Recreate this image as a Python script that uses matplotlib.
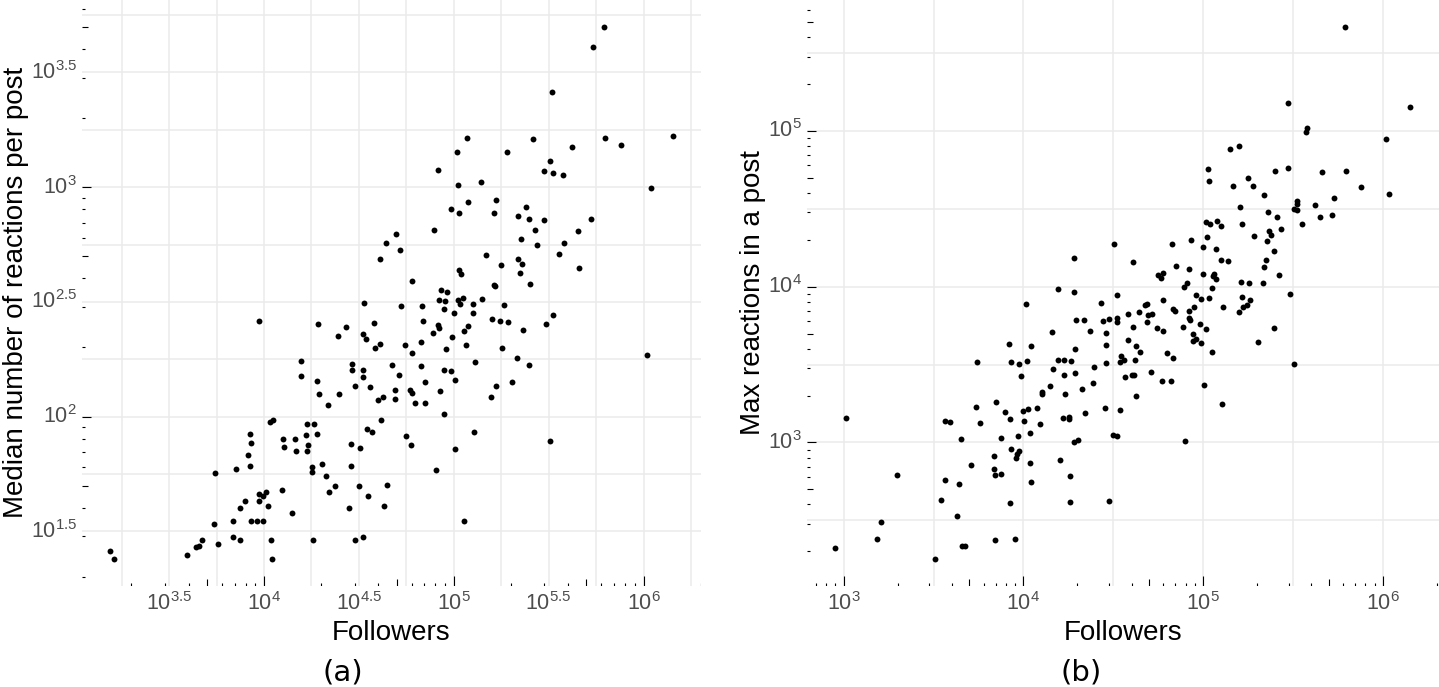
import numpy as np
import matplotlib
matplotlib.use("Agg")
import matplotlib.pyplot as plt
from matplotlib.transforms import blended_transform_factory
from matplotlib.ticker import FixedLocator, NullFormatter

plt.rcParams['font.family'] = ['Liberation Sans', 'DejaVu Sans']
plt.rcParams['mathtext.fontset'] = 'custom'
plt.rcParams['mathtext.rm'] = 'Liberation Sans'
plt.rcParams['mathtext.it'] = 'Liberation Sans:italic'
plt.rcParams['mathtext.bf'] = 'Liberation Sans:bold'

# ---------------- data (log10 values) ----------------
# Panel (a): followers vs median reactions per post
a_log10_followers = [
    5.793, 5.733, 5.520, 5.071, 5.416, 5.799, 6.153, 5.882, 5.624, 5.017,
    5.282, 5.505, 5.475, 5.524, 5.574, 4.915, 5.022, 5.142, 6.038, 5.075,
    5.220, 4.988, 5.029, 5.210, 5.382, 5.340, 5.395, 5.476, 5.721, 4.897,
    5.426, 5.654, 5.355, 5.436, 5.580, 4.694, 4.643, 4.717, 4.610, 5.168,
    5.340, 5.552, 5.361, 5.250, 5.661, 5.030, 5.038, 5.351, 4.778, 5.403,
    4.935, 4.963, 5.212, 5.217, 4.922, 4.954, 5.020, 5.033, 5.049, 5.103,
    5.151, 5.266, 4.525, 4.720, 4.834, 4.946, 5.002, 5.100, 5.204, 5.245,
    5.287, 5.484, 5.523, 5.366, 3.974, 4.286, 4.432, 4.390, 4.581, 4.836,
    4.917, 4.922, 5.076, 5.056, 4.892, 4.991, 4.524, 4.539, 4.613, 4.583,
    4.743, 4.828, 4.778, 4.960, 5.064, 5.256, 5.333, 5.398, 5.112, 6.018,
    4.197, 4.197, 4.462, 4.464, 4.523, 4.522, 4.280, 4.291, 4.395, 4.479,
    4.339, 4.675, 4.714, 4.825, 4.946, 4.985, 5.004, 4.851, 4.926, 4.561,
    4.689, 4.692, 4.769, 4.779, 4.602, 4.627, 4.798, 4.848, 4.947, 5.198,
    5.222, 5.305, 4.029, 4.045, 4.226, 4.265, 4.222, 4.279, 4.102, 4.161,
    4.106, 4.168, 4.232, 4.228, 3.927, 3.934, 3.918, 3.926, 3.851, 4.252,
    4.307, 4.457, 4.506, 4.459, 4.541, 4.568, 4.616, 4.747, 4.776, 5.005,
    4.904, 5.108, 5.505, 5.052, 4.501, 4.546, 4.650, 4.631, 4.446, 4.479,
    4.522, 4.254, 4.327, 4.374, 4.344, 4.093, 4.023, 4.009, 3.996, 3.972,
    3.974, 4.148, 3.900, 3.875, 3.838, 3.933, 3.962, 3.996, 3.838, 3.875,
    4.035, 4.044, 4.260, 3.743, 3.737, 3.759, 3.675, 3.659, 3.643, 3.594,
    3.187, 3.208,
]
a_log10_median_reactions = [
    3.700, 3.613, 3.417, 3.215, 3.212, 3.215, 3.224, 3.183, 3.177, 3.153,
    3.152, 3.114, 3.070, 3.062, 3.054, 3.074, 3.011, 3.021, 2.996, 2.936,
    2.942, 2.906, 2.887, 2.889, 2.914, 2.874, 2.863, 2.856, 2.861, 2.812,
    2.812, 2.808, 2.774, 2.748, 2.756, 2.796, 2.756, 2.724, 2.687, 2.704,
    2.686, 2.707, 2.663, 2.660, 2.649, 2.640, 2.623, 2.625, 2.593, 2.580,
    2.553, 2.545, 2.573, 2.567, 2.509, 2.502, 2.506, 2.491, 2.516, 2.491,
    2.511, 2.487, 2.494, 2.482, 2.481, 2.468, 2.450, 2.451, 2.427, 2.417,
    2.412, 2.404, 2.442, 2.379, 2.417, 2.402, 2.392, 2.351, 2.410, 2.418,
    2.398, 2.384, 2.395, 2.373, 2.363, 2.346, 2.362, 2.337, 2.318, 2.297,
    2.310, 2.324, 2.279, 2.295, 2.314, 2.299, 2.257, 2.226, 2.238, 2.270,
    2.243, 2.176, 2.228, 2.203, 2.202, 2.173, 2.155, 2.097, 2.100, 2.133,
    2.051, 2.223, 2.181, 2.220, 2.203, 2.199, 2.161, 2.150, 2.110, 2.130,
    2.117, 2.076, 2.115, 2.103, 2.072, 2.087, 2.057, 2.057, 2.013, 2.085,
    2.133, 2.150, 1.978, 1.987, 1.969, 1.969, 1.919, 1.924, 1.903, 1.903,
    1.869, 1.851, 1.875, 1.851, 1.924, 1.886, 1.831, 1.785, 1.772, 1.779,
    1.792, 1.881, 1.863, 1.785, 1.945, 1.934, 1.984, 1.913, 1.875, 1.857,
    1.767, 1.934, 1.892, 1.543, 1.699, 1.652, 1.702, 1.611, 1.601, 1.462,
    1.475, 1.757, 1.740, 1.699, 1.671, 1.680, 1.611, 1.670, 1.654, 1.663,
    1.633, 1.578, 1.633, 1.601, 1.543, 1.543, 1.543, 1.543, 1.476, 1.462,
    1.462, 1.379, 1.462, 1.755, 1.532, 1.446, 1.462, 1.437, 1.431, 1.396,
    1.414, 1.379,
]

# Panel (b): followers vs max reactions in a post
b_log10_followers = [
    4.279, 4.195, 4.279, 4.012, 4.294, 4.160, 3.918, 4.044, 4.286, 3.743,
    3.933, 3.973, 4.022, 4.195, 4.227, 4.263, 4.166, 3.988, 4.226, 4.289,
    4.146, 4.102, 4.105, 4.230, 3.850, 3.736, 3.898, 3.996, 4.027, 4.077,
    3.925, 3.757, 4.004, 4.092, 4.222, 4.252, 4.254, 3.564, 3.593, 3.013,
    3.653, 3.875, 3.972, 4.035, 4.283, 4.304, 3.930, 3.973, 3.966, 3.961,
    3.838, 4.205, 3.711, 4.037, 3.838, 3.843, 3.875, 4.259, 3.295, 3.565,
    3.642, 4.043, 3.543, 3.925, 4.258, 3.631, 3.206, 3.185, 3.844, 3.955,
    3.658, 3.675, 2.953, 3.510, 5.791, 5.474, 6.151, 5.577, 5.573, 6.016,
    5.148, 5.201, 5.026, 5.033, 5.401, 5.473, 5.660, 5.797, 5.248, 5.166,
    5.279, 5.879, 5.337, 6.036, 5.730, 5.523, 5.521, 5.504, 5.520, 5.621,
    5.208, 5.360, 5.413, 5.653, 5.719, 5.550, 5.016, 5.036, 5.075, 5.098,
    5.218, 5.364, 5.380, 5.435, 5.285, 5.354, 5.021, 4.933, 4.828, 4.504,
    5.001, 5.072, 5.394, 5.101, 5.140, 5.351, 5.338, 4.608, 4.849, 4.920,
    4.747, 4.767, 4.778, 5.001, 5.062, 5.057, 5.069, 5.424, 5.211, 5.254,
    5.333, 4.895, 4.912, 5.047, 5.483, 4.523, 4.430, 4.339, 4.372, 4.445,
    4.478, 4.521, 4.521, 4.460, 4.580, 4.612, 4.642, 4.676, 4.688, 4.692,
    4.717, 4.690, 4.777, 4.742, 4.779, 4.835, 4.845, 4.890, 4.922, 4.952,
    4.961, 4.987, 5.030, 4.920, 4.926, 4.983, 5.018, 4.944, 4.958, 4.581,
    5.110, 5.197, 5.217, 5.220, 5.243, 5.263, 5.396, 4.457, 4.627, 4.650,
    4.544, 4.539, 4.560, 4.458, 4.393, 4.622, 4.797, 4.833, 4.946, 4.988,
    5.051, 5.304, 5.504, 4.324, 4.389, 4.565, 4.603, 4.618, 4.712, 4.774,
    4.823, 4.628, 5.003, 4.343, 4.456, 4.539, 5.105, 4.499, 4.519, 4.901,
    4.478,
]
b_log10_max_reactions = [
    4.182, 3.983, 3.967, 3.889, 3.784, 3.709, 3.632, 3.619, 3.598, 3.519,
    3.517, 3.501, 3.525, 3.530, 3.531, 3.523, 3.473, 3.429, 3.430, 3.446,
    3.365, 3.322, 3.311, 3.308, 3.262, 3.226, 3.194, 3.204, 3.212, 3.223,
    3.153, 3.128, 3.135, 3.116, 3.154, 3.166, 3.148, 3.137, 3.130, 3.159,
    3.021, 3.027, 3.042, 3.061, 3.000, 3.013, 2.956, 2.946, 2.923, 2.899,
    2.910, 2.890, 2.858, 2.869, 2.828, 2.791, 2.796, 2.783, 2.793, 2.758,
    2.732, 2.747, 2.631, 2.614, 2.620, 2.528, 2.492, 2.381, 2.376, 2.383,
    2.336, 2.338, 2.321, 2.252, 5.669, 5.179, 5.155, 5.020, 4.995, 4.950,
    4.882, 4.903, 4.753, 4.676, 4.743, 4.760, 4.734, 4.741, 4.700, 4.648,
    4.644, 4.642, 4.590, 4.593, 4.571, 4.549, 4.532, 4.497, 4.495, 4.521,
    4.510, 4.481, 4.445, 4.444, 4.460, 4.399, 4.413, 4.400, 4.424, 4.388,
    4.400, 4.359, 4.334, 4.367, 4.323, 4.292, 4.319, 4.298, 4.274, 4.274,
    4.253, 4.243, 4.226, 4.173, 4.162, 4.169, 4.123, 4.157, 4.135, 4.112,
    4.073, 4.056, 4.085, 4.083, 4.083, 4.067, 4.049, 4.077, 4.030, 4.022,
    4.025, 4.000, 4.026, 3.993, 3.955, 3.947, 3.892, 3.784, 3.714, 3.779,
    3.793, 3.801, 3.775, 3.701, 3.823, 3.741, 3.836, 3.879, 3.887, 3.815,
    3.823, 3.775, 3.916, 3.736, 3.714, 3.857, 3.846, 3.738, 3.843, 3.868,
    3.944, 3.922, 3.929, 3.799, 3.785, 3.763, 3.727, 3.693, 3.661, 3.655,
    3.872, 3.836, 3.935, 3.870, 3.883, 3.915, 3.736, 3.623, 3.621, 3.581,
    3.557, 3.515, 3.528, 3.512, 3.486, 3.528, 3.574, 3.539, 3.648, 3.637,
    3.579, 3.643, 3.504, 3.342, 3.381, 3.417, 3.432, 3.432, 3.454, 3.392,
    3.392, 3.300, 3.369, 3.191, 3.223, 3.210, 3.247, 3.047, 3.040, 3.008,
    2.623,
]

# axis break exponents and labels
a_x_major = [3.5, 4, 4.5, 5, 5.5, 6]
a_x_labels = ['3.5', '4', '4.5', '5', '5.5', '6']
a_y_major = [1.5, 2, 2.5, 3, 3.5]
a_y_labels = ['1.5', '2', '2.5', '3', '3.5']
b_x_major = [3, 4, 5, 6]
b_x_labels = ['3', '4', '5', '6']
b_y_major = [3, 4, 5]
b_y_labels = ['3', '4', '5']

x_title = 'Followers'
a_y_title = 'Median number of reactions per post'
b_y_title = 'Max reactions in a post'
captions = ['(a)', '(b)']

# ---------------- figure ----------------
W, H = 1439, 687
fig = plt.figure(figsize=(W / 100, H / 100), dpi=100)
fig.patch.set_facecolor('white')


def add_axes_px(left, right, top, bottom):
    return fig.add_axes([left / W, 1 - bottom / H, (right - left) / W, (bottom - top) / H])


GRID = '#EBEBEB'
TICKCOL = '#4D4D4D'


def expanded(vals):
    lo, hi = min(vals), max(vals)
    pad = 0.05 * (hi - lo)
    return lo - pad, hi + pad


def minor_between(major, lo, hi):
    step = major[1] - major[0]
    cands = np.arange(major[0] - step / 2, major[-1] + step, step)
    return [10 ** c for c in cands if lo <= c <= hi]


def logticks(ax, wpx, hpx):
    tx = blended_transform_factory(ax.transData, ax.transAxes)
    ty = blended_transform_factory(ax.transAxes, ax.transData)
    x0, x1 = ax.get_xlim()
    y0, y1 = ax.get_ylim()
    for n in range(int(np.floor(np.log10(x0))), int(np.ceil(np.log10(x1))) + 1):
        for k in range(1, 10):
            v = k * 10.0 ** n
            if x0 <= v <= x1:
                L = 9.3 if k == 1 else (6.2 if k == 5 else 3.1)
                ax.plot([v, v], [0, L / hpx], transform=tx, color='black',
                        lw=0.8, solid_capstyle='butt', zorder=3)
    for n in range(int(np.floor(np.log10(y0))), int(np.ceil(np.log10(y1))) + 1):
        for k in range(1, 10):
            v = k * 10.0 ** n
            if y0 <= v <= y1:
                L = 9.3 if k == 1 else (6.2 if k == 5 else 3.1)
                ax.plot([0, L / wpx], [v, v], transform=ty, color='black',
                        lw=0.8, solid_capstyle='butt', zorder=3)


def panel(ax, lx, ly, xmaj, xlab, ymaj, ylab, wpx, hpx):
    ax.set_xscale('log')
    ax.set_yscale('log')
    ax.scatter(10 ** np.array(lx), 10 ** np.array(ly), s=18, color='black',
               linewidths=0, zorder=4)
    xl = expanded(lx)
    yl = expanded(ly)
    ax.set_xlim(10 ** xl[0], 10 ** xl[1])
    ax.set_ylim(10 ** yl[0], 10 ** yl[1])
    ax.xaxis.set_major_locator(FixedLocator([10 ** v for v in xmaj]))
    ax.yaxis.set_major_locator(FixedLocator([10 ** v for v in ymaj]))
    ax.xaxis.set_minor_locator(FixedLocator(minor_between(xmaj, *xl)))
    ax.yaxis.set_minor_locator(FixedLocator(minor_between(ymaj, *yl)))
    ax.xaxis.set_minor_formatter(NullFormatter())
    ax.yaxis.set_minor_formatter(NullFormatter())
    ax.set_xticklabels([r'$\mathregular{10^{%s}}$' % t for t in xlab])
    ax.set_yticklabels([r'$\mathregular{10^{%s}}$' % t for t in ylab])
    ax.tick_params(which='both', length=0)
    ax.tick_params(axis='x', which='major', labelsize=15.5, labelcolor=TICKCOL, pad=5.0)
    ax.tick_params(axis='y', which='major', labelsize=15.5, labelcolor=TICKCOL, pad=3.3)
    for t in ax.get_yticklabels():
        t.set_verticalalignment('center')
    ax.grid(True, which='major', color=GRID, lw=1.1, zorder=0)
    ax.grid(True, which='minor', color=GRID, lw=1.1, zorder=0)
    ax.set_axisbelow(True)
    for s in ax.spines.values():
        s.set_visible(False)
    ax.set_facecolor('white')
    logticks(ax, wpx, hpx)


axa = add_axes_px(81.6, 700.7, 0, 585.6)
axb = add_axes_px(806.5, 1438.7, 0, 585.6)
panel(axa, a_log10_followers, a_log10_median_reactions, a_x_major, a_x_labels,
      a_y_major, a_y_labels, 700.7 - 81.6, 585.6)
panel(axb, b_log10_followers, b_log10_max_reactions, b_x_major, b_x_labels,
      b_y_major, b_y_labels, 1438.7 - 806.5, 585.6)

# axis titles
fig.text((81.6 + 700.7) / 2 / W, 1 - 640 / H, x_title, ha='center', va='baseline',
         fontsize=20, color='black')
fig.text((806.5 + 1438.7) / 2 / W, 1 - 640 / H, x_title, ha='center', va='baseline',
         fontsize=20, color='black')
fig.text(23 / W, 1 - 292.8 / H, a_y_title, rotation=90, rotation_mode='anchor',
         ha='center', va='baseline', fontsize=20, color='black')
fig.text(760 / W, 1 - 292.8 / H, b_y_title, rotation=90, rotation_mode='anchor',
         ha='center', va='baseline', fontsize=20, color='black')

# captions
fig.text(343 / W, 1 - 680 / H, captions[0], ha='center', va='baseline',
         fontsize=21, family='DejaVu Sans', color='black')
fig.text(1081 / W, 1 - 680 / H, captions[1], ha='center', va='baseline',
         fontsize=21, family='DejaVu Sans', color='black')

fig.savefig('out.png', dpi=100, facecolor='white')
